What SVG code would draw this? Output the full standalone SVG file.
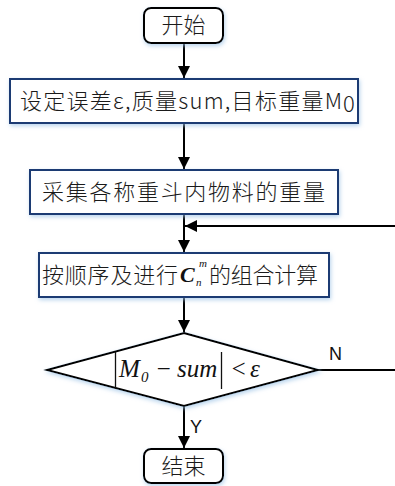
<svg xmlns="http://www.w3.org/2000/svg" width="395" height="486" viewBox="0 0 395 486">
  <defs>
    <filter id="glow" x="-10%" y="-30%" width="120%" height="160%">
      <feGaussianBlur in="SourceAlpha" stdDeviation="2"/>
      <feOffset dx="1" dy="2" result="b"/>
      <feFlood flood-color="#9cc3e6" flood-opacity="0.7"/>
      <feComposite in2="b" operator="in"/>
      <feMerge><feMergeNode/><feMergeNode in="SourceGraphic"/></feMerge>
    </filter>
    <marker id="arrow" viewBox="0 0 12 12" refX="12" refY="6" markerWidth="12" markerHeight="12" markerUnits="userSpaceOnUse" orient="auto">
      <path d="M0,0 L12,6 L0,12 Z" fill="#000"/>
    </marker>
  </defs>
  <style>
    .term { fill: #fff; stroke: #000; stroke-width: 2; filter: url(#glow); }
    .proc { fill: #fff; stroke: #1f3a73; stroke-width: 2; filter: url(#glow); }
    .dec { fill: #fff; stroke: #000; stroke-width: 2; filter: url(#glow); }
    .cn { font-family: "Noto Sans CJK SC", "Liberation Sans", sans-serif; font-size: 22px; font-weight: 300; fill: #1a1a1a; }
    .lbl { font-family: "Liberation Sans", Arial, sans-serif; font-size: 18px; fill: #111; }
    .math { font-family: "Liberation Serif", "Times New Roman", serif; font-style: italic; fill: #111; }
    .bar { stroke: #111; stroke-width: 1.3; }
    .edge { fill: none; stroke: #000; stroke-width: 2; }
  </style>

  <!-- connectors -->
  <g id="connectors">
    <line class="edge" x1="184" y1="43" x2="184" y2="78" marker-end="url(#arrow)"/>
    <line class="edge" x1="184" y1="123" x2="184" y2="169" marker-end="url(#arrow)"/>
    <line class="edge" x1="184" y1="214" x2="184" y2="252" marker-end="url(#arrow)"/>
    <line class="edge" x1="395" y1="226" x2="185" y2="226" marker-end="url(#arrow)"/>
    <line class="edge" x1="184" y1="297" x2="184" y2="332" marker-end="url(#arrow)"/>
    <line class="edge" x1="318" y1="370" x2="395" y2="370"/>
    <line class="edge" x1="184" y1="406" x2="184" y2="448" marker-end="url(#arrow)"/>
    <text class="lbl" x="329" y="360">N</text>
    <text class="lbl" x="190" y="433">Y</text>
  </g>

  <!-- start -->
  <g id="start">
    <rect class="term" x="144" y="8" width="79" height="35" rx="7"/>
    <text class="cn" x="183.5" y="33" text-anchor="middle">开始</text>
  </g>

  <!-- parameters -->
  <g id="setup">
    <rect class="proc" x="10" y="79" width="348" height="44"/>
    <text class="cn" x="20" y="109" textLength="322" lengthAdjust="spacing">设定误差ε,质量sum,目标重量M</text>
    <text class="cn" x="343" y="112" font-size="15">0</text>
  </g>

  <!-- weight sampling -->
  <g id="collect">
    <rect class="proc" x="30" y="170" width="308" height="44"/>
    <text class="cn" x="42" y="200" textLength="283" lengthAdjust="spacing">采集各称重斗内物料的重量</text>
  </g>

  <!-- combination: C with superscript m and subscript n -->
  <g id="combine">
    <rect class="proc" x="39" y="253" width="290" height="44"/>
    <text class="cn" x="42" y="283" textLength="136" lengthAdjust="spacing">按顺序及进行</text>
    <text class="math" x="180" y="282" font-size="22" font-weight="bold">C</text>
    <text class="math" x="199" y="267" font-size="11">m</text>
    <text class="math" x="196" y="286" font-size="11">n</text>
    <text class="cn" x="209" y="283" textLength="109" lengthAdjust="spacing">的组合计算</text>
  </g>

  <!-- decision -->
  <g id="check">
    <polygon class="dec" points="184,333 318,370 184,406 47,370"/>
    <line class="bar" x1="115.5" y1="352" x2="115.5" y2="389"/>
    <text class="math" x="119" y="377" font-size="25">M</text>
    <text class="math" x="141" y="382" font-size="15" font-style="normal">0</text>
    <text class="math" x="155" y="377" font-size="25" font-style="normal">−</text>
    <text class="math" x="177" y="377" font-size="25">sum</text>
    <line class="bar" x1="221.5" y1="352" x2="221.5" y2="389"/>
    <text class="math" x="230" y="377" font-size="25" font-style="normal">&lt;</text>
    <text class="math" x="250" y="377" font-size="25">ε</text>
  </g>

  <!-- end -->
  <g id="end">
    <rect class="term" x="144" y="449" width="79" height="34" rx="7"/>
    <text class="cn" x="183.5" y="474" text-anchor="middle">结束</text>
  </g>
</svg>
